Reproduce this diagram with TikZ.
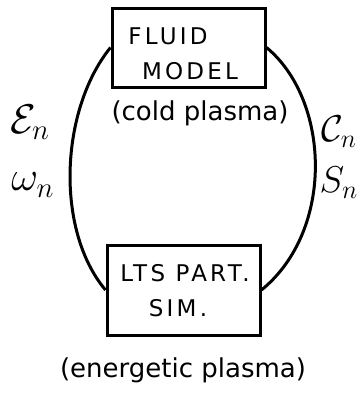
\documentclass[tikz,border=0pt]{standalone}
\usepackage{fontspec}
\setmainfont{DejaVu Sans}
\newcommand{\bigsym}[2][2]{\scalebox{#1}{$#2$}}
\begin{document}
\begin{tikzpicture}[x=1pt,y=-1pt,
  boxst/.style={draw,line width=3pt,minimum width=#1,inner sep=0pt},
  boxtxt/.style={align=center,inner sep=0pt,font=\fontsize{23}{35}\selectfont\addfontfeature{LetterSpace=14}},
  lbl/.style={inner sep=0pt,font=\fontsize{26}{28}\selectfont},
  sym/.style={inner sep=0pt,font=\fontsize{20}{22}\selectfont},
  arc/.style={line width=3pt}]
\useasboundingbox (0,0) rectangle (361,399);
\node[boxst=153pt,minimum height=79pt] (fluid) at (188.5,47.5) {};
\node[boxtxt] (fluidtxt) at (181,54) {FLUID\hspace*{26pt}\\\hspace*{18pt}MODEL};
\node[boxst=153pt,minimum height=90pt] (lts) at (183.5,290) {};
\node[boxtxt] (ltstxt) at (185,291) {LTS PART.\\SIM.\hspace*{14pt}};
\node[lbl] (cold) at (200,113) {(cold plasma)};
\node[lbl] (ener) at (183,370) {(energetic plasma)};
\node[sym] (en) at (30,122) {\bigsym{\mathcal{E}_n}};
\node[sym] (wn) at (33,185) {\bigsym{\omega_n}};
\node[sym] (cn) at (339,132) {\bigsym[1.8]{\mathcal{C}_n}};
\node[sym] (sn) at (339,183) {\bigsym[1.8]{S_n}};
\draw[arc] (fluid.west) .. controls (60,110) and (55,230) .. (lts.west);
\draw[arc] (fluid.east) .. controls (330,100) and (335,230) .. (lts.east);
\end{tikzpicture}
\end{document}
